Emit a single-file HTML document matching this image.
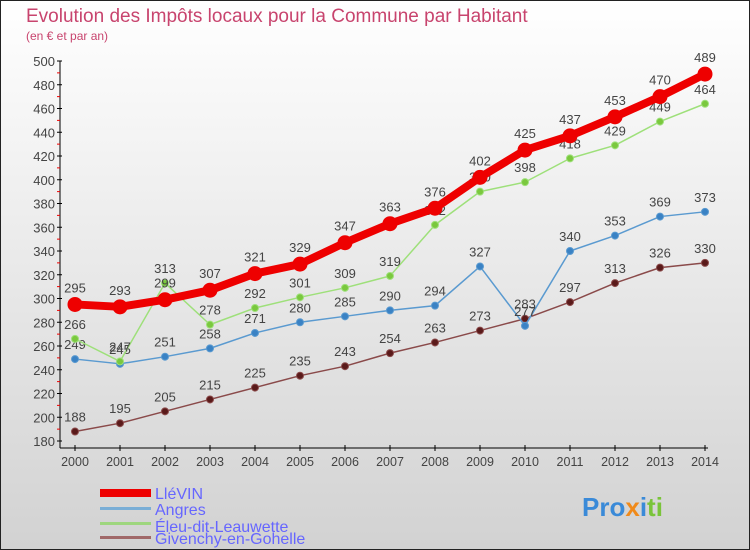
<!DOCTYPE html>
<html><head><meta charset="utf-8"><style>
body{margin:0}
svg{display:block;font-family:"Liberation Sans",sans-serif}
</style></head><body>
<svg id="c" width="750" height="550">
<defs><linearGradient id="bg" x1="0" y1="0" x2="0" y2="1"><stop offset="0" stop-color="#ffffff"/><stop offset="1" stop-color="#d2d2d2"/></linearGradient></defs>
<rect x="0.5" y="0.5" width="749" height="549" fill="url(#bg)" stroke="#222"/>
<text x="26" y="22" font-size="19" fill="#c8446e">Evolution des Impôts locaux pour la Commune par Habitant</text>
<text x="26" y="40" font-size="12" fill="#c8446e">(en € et par an)</text>
<g id="axes"></g><g id="series"></g>
<g>
<rect x="100" y="489" width="51" height="8" fill="#e00"/>
<text x="155" y="499" font-size="16" fill="#6666ff">LléVIN</text>
<rect x="100" y="507" width="51" height="3" fill="#7aaed6"/>
<text x="155" y="515" font-size="16" fill="#6666ff">Angres</text>
<rect x="100" y="522" width="51" height="3" fill="#9ed67e"/>
<text x="155" y="532" font-size="16" fill="#6666ff">Éleu-dit-Leauwette</text>
<rect x="100" y="536" width="51" height="3" fill="#a06868"/>
<text x="155" y="544" font-size="16" fill="#6666ff">Givenchy-en-Gohelle</text>
</g>
<text x="582" y="516" font-size="26" font-weight="bold"><tspan fill="#3a8ad8">Pro</tspan><tspan fill="#f08a1a">x</tspan><tspan fill="#3a8ad8">i</tspan><tspan fill="#7ac43a">ti</tspan></text>
</svg>
<script>
const years=[2000,2001,2002,2003,2004,2005,2006,2007,2008,2009,2010,2011,2012,2013,2014];
const lievin=[295,293,299,307,321,329,347,363,376,402,425,437,453,470,489];
const angres=[249,245,251,258,271,280,285,290,294,327,277,340,353,369,373];
const eleu=[266,247,313,278,292,301,309,319,362,390,398,418,429,449,464];
const givenchy=[188,195,205,215,225,235,243,254,263,273,283,297,313,326,330];
const yTicks=[180,200,220,240,260,280,300,320,340,360,380,400,420,440,460,480,500];
const NS="http://www.w3.org/2000/svg";
const X=i=>75+i*45;
const Y=v=>441-(v-180)*1.1875;
function mk(p,t,a){const e=document.createElementNS(NS,t);for(const k in a)e.setAttribute(k,a[k]);p.appendChild(e);return e;}
const ax=document.getElementById('axes');
let l=mk(ax,'line',{x1:60,y1:Y(500),x2:60,y2:448,stroke:'#000'});


l=mk(ax,'line',{x1:60,y1:448,x2:708,y2:448,stroke:'#000'});


yTicks.forEach(v=>{
 mk(ax,'line',{x1:57,y1:Y(v),x2:62,y2:Y(v),stroke:'#000'});
 if(v<500)mk(ax,'line',{x1:57,y1:Y(v+10),x2:60,y2:Y(v+10),stroke:'#e00'});
 const t=mk(ax,'text',{x:55,y:Y(v)+5,'font-size':13,fill:'#444','text-anchor':'end'});
 t.textContent=v;
 
 
});
years.forEach((y,i)=>{
 mk(ax,'line',{x1:X(i),y1:445,x2:X(i),y2:451,stroke:'#000'});
 const t=mk(ax,'text',{x:X(i),y:466,'font-size':12.5,fill:'#444','text-anchor':'middle'});
 t.textContent=y;
 
 
});
const sg=document.getElementById('series');
function draw(vals,color,w,r,dot,name){
 const g=mk(sg,'g',{});
 
 
 const pl=mk(g,'polyline',{points:vals.map((v,i)=>X(i)+','+Y(v)).join(' '),fill:'none',stroke:color,'stroke-width':w,'stroke-linejoin':'round'});
 
 
 vals.forEach((v,i)=>{
  const c=mk(g,'circle',{cx:X(i),cy:Y(v),r:r,fill:dot,stroke:color,'stroke-width':1});
  
  
  const t=mk(g,'text',{x:X(i),y:Y(v)-10-(r>5?2:0),'font-size':13,fill:'#444','text-anchor':'middle'});
  t.textContent=v;
  
  
 });
}
draw(givenchy,'#8a4a4a',1.5,3.5,'#5a1a1a','givenchy');
draw(angres,'#5a9ad0',1.5,3.5,'#3a82c4','angres');
draw(eleu,'#9ee07a',1.5,3.5,'#7ac83e','eleu');
draw(lievin,'#ee0000',8,7,'#ee0000','lievin');
</script>
</body></html>
